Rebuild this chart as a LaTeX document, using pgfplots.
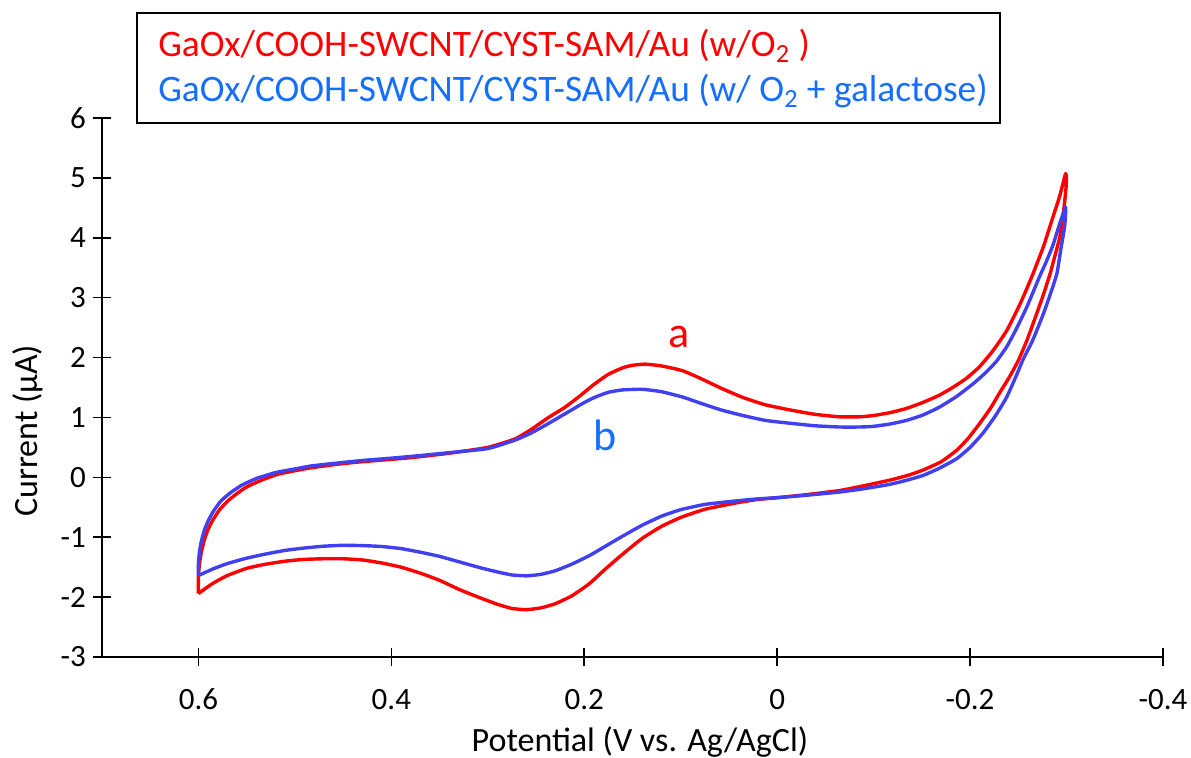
\documentclass[border=0pt]{standalone}
\usepackage{fontspec}
\setmainfont{Carlito}
\usepackage{pgfplots}
\pgfplotsset{compat=1.18}
\definecolor{cvred}{RGB}{255,0,0}
\definecolor{cvblue}{RGB}{64,64,240}
\definecolor{txtblue}{RGB}{20,110,255}
\begin{document}
\begin{tikzpicture}
\useasboundingbox (0,0) rectangle (595.5pt,379pt);
\begin{axis}[
 at={(51pt,50.5pt)}, anchor=south west,
 scale only axis, width=530.5pt, height=269.5pt,
 x dir=reverse, xmin=-0.4, xmax=0.7, ymin=-3, ymax=6,
 xtick={-0.4,-0.2,0,0.2,0.4,0.6}, ytick={-3,-2,-1,0,1,2,3,4,5,6},
 axis x line*=bottom, axis y line*=left,
 tick align=center, major tick length=9pt,
 tick style={black, line width=0.8pt}, axis line style={black,line width=0.8pt},
 /pgf/number format/assume math mode=true,
 ticklabel style={font=\fontsize{15.5}{18}\selectfont},
 xticklabel style={yshift=-8pt},
 xlabel={Potential (V vs. Ag/AgCl)}, ylabel={Current (µA)},
 label style={font=\fontsize{17}{20}\selectfont},
 xlabel style={at={(axis description cs:0.507,-0.158)},anchor=center},
 ylabel style={at={(axis description cs:-0.0697,0.42)},anchor=center},
 clip=false,
]
\addplot[cvred, line width=1.7pt, line join=round, smooth, tension=0.3] coordinates {
(0.600,-1.94) (0.600,-1.66) (0.599,-1.45) (0.597,-1.25) (0.594,-1.05) (0.590,-0.87)
(0.585,-0.71) (0.578,-0.54) (0.570,-0.40) (0.560,-0.27) (0.550,-0.16) (0.535,-0.05)
(0.518,0.05) (0.500,0.11) (0.483,0.16) (0.455,0.22) (0.431,0.26) (0.400,0.30)
(0.379,0.33) (0.341,0.40) (0.300,0.50) (0.272,0.64) (0.255,0.80) (0.237,1.00)
(0.220,1.17) (0.206,1.34) (0.190,1.55) (0.175,1.72) (0.160,1.83) (0.150,1.87)
(0.137,1.89) (0.120,1.86) (0.098,1.78) (0.078,1.64) (0.057,1.48) (0.035,1.33)
(0.012,1.21) (-0.015,1.12) (-0.040,1.05) (-0.065,1.01) (-0.085,1.01) (-0.099,1.03)
(-0.117,1.08) (-0.134,1.15) (-0.151,1.25) (-0.168,1.37) (-0.182,1.50) (-0.196,1.65)
(-0.210,1.85) (-0.224,2.12) (-0.238,2.45) (-0.252,2.90) (-0.264,3.35) (-0.276,3.85)
(-0.285,4.30) (-0.293,4.70) (-0.299,5.07) (-0.300,4.95) (-0.299,4.75) (-0.297,4.45)
(-0.293,4.01) (-0.288,3.70) (-0.283,3.40) (-0.276,3.05) (-0.269,2.73) (-0.259,2.29)
(-0.250,1.95) (-0.241,1.68) (-0.231,1.42) (-0.221,1.15) (-0.210,0.90) (-0.198,0.65)
(-0.186,0.45) (-0.170,0.26) (-0.151,0.12) (-0.135,0.03) (-0.116,-0.05) (-0.090,-0.14)
(-0.065,-0.22) (-0.030,-0.29) (0.000,-0.34) (0.020,-0.37) (0.040,-0.42) (0.074,-0.53)
(0.100,-0.67) (0.120,-0.82) (0.140,-1.02) (0.160,-1.28) (0.178,-1.53) (0.195,-1.78)
(0.213,-1.98) (0.230,-2.11) (0.245,-2.18) (0.260,-2.21) (0.275,-2.19) (0.290,-2.12)
(0.310,-2.00) (0.330,-1.87) (0.350,-1.72) (0.370,-1.60) (0.390,-1.50) (0.410,-1.43)
(0.430,-1.38) (0.450,-1.36) (0.470,-1.36) (0.490,-1.37) (0.510,-1.40) (0.530,-1.45)
(0.550,-1.52) (0.570,-1.64) (0.585,-1.77) (0.600,-1.94)
};
\addplot[cvblue, line width=1.7pt, line join=round, smooth, tension=0.3] coordinates {
(0.600,-1.64) (0.600,-1.44) (0.599,-1.25) (0.597,-1.07) (0.594,-0.89) (0.590,-0.73)
(0.585,-0.58) (0.577,-0.40) (0.567,-0.26) (0.555,-0.13) (0.540,-0.02) (0.520,0.08)
(0.500,0.14) (0.483,0.19) (0.455,0.24) (0.431,0.28) (0.400,0.32) (0.379,0.35)
(0.341,0.41) (0.300,0.48) (0.272,0.62) (0.255,0.74) (0.237,0.90) (0.220,1.06)
(0.202,1.23) (0.190,1.33) (0.175,1.42) (0.160,1.46) (0.140,1.47) (0.120,1.43)
(0.098,1.34) (0.078,1.23) (0.057,1.12) (0.035,1.03) (0.012,0.95) (-0.015,0.90)
(-0.040,0.86) (-0.065,0.84) (-0.085,0.84) (-0.099,0.85) (-0.117,0.89) (-0.134,0.95)
(-0.151,1.04) (-0.168,1.17) (-0.186,1.35) (-0.203,1.56) (-0.215,1.73) (-0.227,1.93)
(-0.238,2.18) (-0.248,2.48) (-0.259,2.85) (-0.272,3.35) (-0.279,3.60) (-0.286,3.88)
(-0.293,4.24) (-0.299,4.51) (-0.299,4.40) (-0.298,4.18) (-0.294,3.80) (-0.290,3.40)
(-0.283,3.05) (-0.276,2.73) (-0.265,2.29) (-0.255,1.97) (-0.248,1.70) (-0.238,1.34)
(-0.226,1.02) (-0.213,0.73) (-0.200,0.50) (-0.186,0.31) (-0.168,0.15) (-0.151,0.03)
(-0.134,-0.05) (-0.116,-0.12) (-0.090,-0.19) (-0.065,-0.245) (-0.030,-0.30) (0.000,-0.34)
(0.020,-0.36) (0.040,-0.39) (0.074,-0.45) (0.100,-0.54) (0.120,-0.65) (0.140,-0.80)
(0.160,-0.98) (0.178,-1.15) (0.195,-1.31) (0.213,-1.45) (0.230,-1.56) (0.245,-1.62)
(0.260,-1.645) (0.275,-1.63) (0.290,-1.58) (0.310,-1.50) (0.330,-1.41) (0.350,-1.32)
(0.370,-1.25) (0.390,-1.19) (0.410,-1.155) (0.430,-1.14) (0.450,-1.135) (0.470,-1.15)
(0.490,-1.18) (0.510,-1.22) (0.530,-1.28) (0.550,-1.35) (0.570,-1.44) (0.585,-1.53)
(0.600,-1.64)
};
\node[text=cvred, font=\fontsize{22}{26}\selectfont] at (axis cs:0.102,2.34) {a};
\node[text=txtblue, font=\fontsize{22}{26}\selectfont] at (axis cs:0.178,0.70) {b};
\end{axis}
\draw[line width=0.8pt, fill=white] (68.5pt,317.5pt) rectangle (500pt,372.5pt);
\node[anchor=base west, text=cvred, font=\fontsize{18.7}{22}\selectfont, inner sep=0pt] at (79pt,350.5pt) {GaOx/COOH-SWCNT/CYST-SAM/Au (w/O\textsubscript{2} )};
\node[anchor=base west, text=txtblue, font=\fontsize{18.7}{22}\selectfont, inner sep=0pt] at (79pt,328pt) {GaOx/COOH-SWCNT/CYST-SAM/Au (w/ O\textsubscript{2} + galactose)};
\end{tikzpicture}
\end{document}
